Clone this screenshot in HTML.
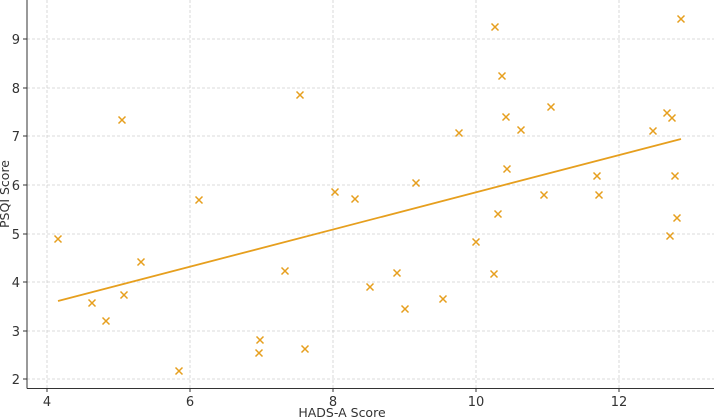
<!DOCTYPE html><html><head><style>body{margin:0;background:#fff}svg{display:block;font-family:"DejaVu Sans","Liberation Sans",sans-serif}</style></head><body>
<svg width="714" height="417" viewBox="0 0 714 417">
<g stroke="#d0d0d0" stroke-width="0.8" stroke-dasharray="3,2">
<line x1="47" y1="0" x2="47" y2="388"/><line x1="190" y1="0" x2="190" y2="388"/><line x1="333" y1="0" x2="333" y2="388"/><line x1="476" y1="0" x2="476" y2="388"/><line x1="619" y1="0" x2="619" y2="388"/>
<line x1="27" y1="39" x2="714" y2="39"/><line x1="27" y1="88" x2="714" y2="88"/><line x1="27" y1="136" x2="714" y2="136"/><line x1="27" y1="185" x2="714" y2="185"/><line x1="27" y1="234" x2="714" y2="234"/><line x1="27" y1="282" x2="714" y2="282"/><line x1="27" y1="331" x2="714" y2="331"/><line x1="27" y1="379" x2="714" y2="379"/>
</g>
<g stroke="#333" stroke-width="1"><line x1="27" y1="0" x2="27" y2="388.5"/><line x1="27" y1="388.5" x2="714" y2="388.5"/>
<line x1="47" y1="388" x2="47" y2="392"/><line x1="190" y1="388" x2="190" y2="392"/><line x1="333" y1="388" x2="333" y2="392"/><line x1="476" y1="388" x2="476" y2="392"/><line x1="619" y1="388" x2="619" y2="392"/>
<line x1="23" y1="39" x2="27" y2="39"/><line x1="23" y1="88" x2="27" y2="88"/><line x1="23" y1="136" x2="27" y2="136"/><line x1="23" y1="185" x2="27" y2="185"/><line x1="23" y1="234" x2="27" y2="234"/><line x1="23" y1="282" x2="27" y2="282"/><line x1="23" y1="331" x2="27" y2="331"/><line x1="23" y1="379" x2="27" y2="379"/></g>
<g font-size="13" fill="#333" text-anchor="middle"><text x="47" y="406">4</text><text x="190" y="406">6</text><text x="333" y="406">8</text><text x="476" y="406">10</text><text x="619" y="406">12</text></g>
<g font-size="13" fill="#333" text-anchor="end"><text x="20" y="44">9</text><text x="20" y="93">8</text><text x="20" y="141">7</text><text x="20" y="190">6</text><text x="20" y="239">5</text><text x="20" y="287">4</text><text x="20" y="336">3</text><text x="20" y="384">2</text></g>
<text x="342" y="417" font-size="12.5" fill="#333" text-anchor="middle">HADS-A Score</text>
<text transform="translate(9,194) rotate(-90)" font-size="12.5" fill="#333" text-anchor="middle">PSQI Score</text>
<line x1="58" y1="301" x2="681" y2="139" stroke="#E69F1E" stroke-width="1.8"/>
<g stroke="#E69F1E" stroke-width="1.5" id="pts"></g>
</svg>
<script>
var p=[[58,239],[92,303],[106,321],[124,295],[122,120],[141,262],[179,371],[199,200],[259,353],[260,340],[285,271],[300,95],[305,349],[335,192],[355,199],[370,287],[397,273],[405,309],[416,183],[443,299],[459,133],[476,242],[494,274],[495,27],[498,214],[502,76],[506,117],[507,169],[521,130],[544,195],[551,107],[597,176],[599,195],[653,131],[667,113],[672,118],[670,236],[675,176],[677,218],[681,19]];
var g=document.getElementById('pts'),s='';
p.forEach(function(a){var x=a[0],y=a[1];s+='<path d="M'+(x-3.5)+' '+(y-3.5)+'L'+(x+3.5)+' '+(y+3.5)+'M'+(x-3.5)+' '+(y+3.5)+'L'+(x+3.5)+' '+(y-3.5)+'"/>';});
g.innerHTML=s;
</script>
</body></html>
